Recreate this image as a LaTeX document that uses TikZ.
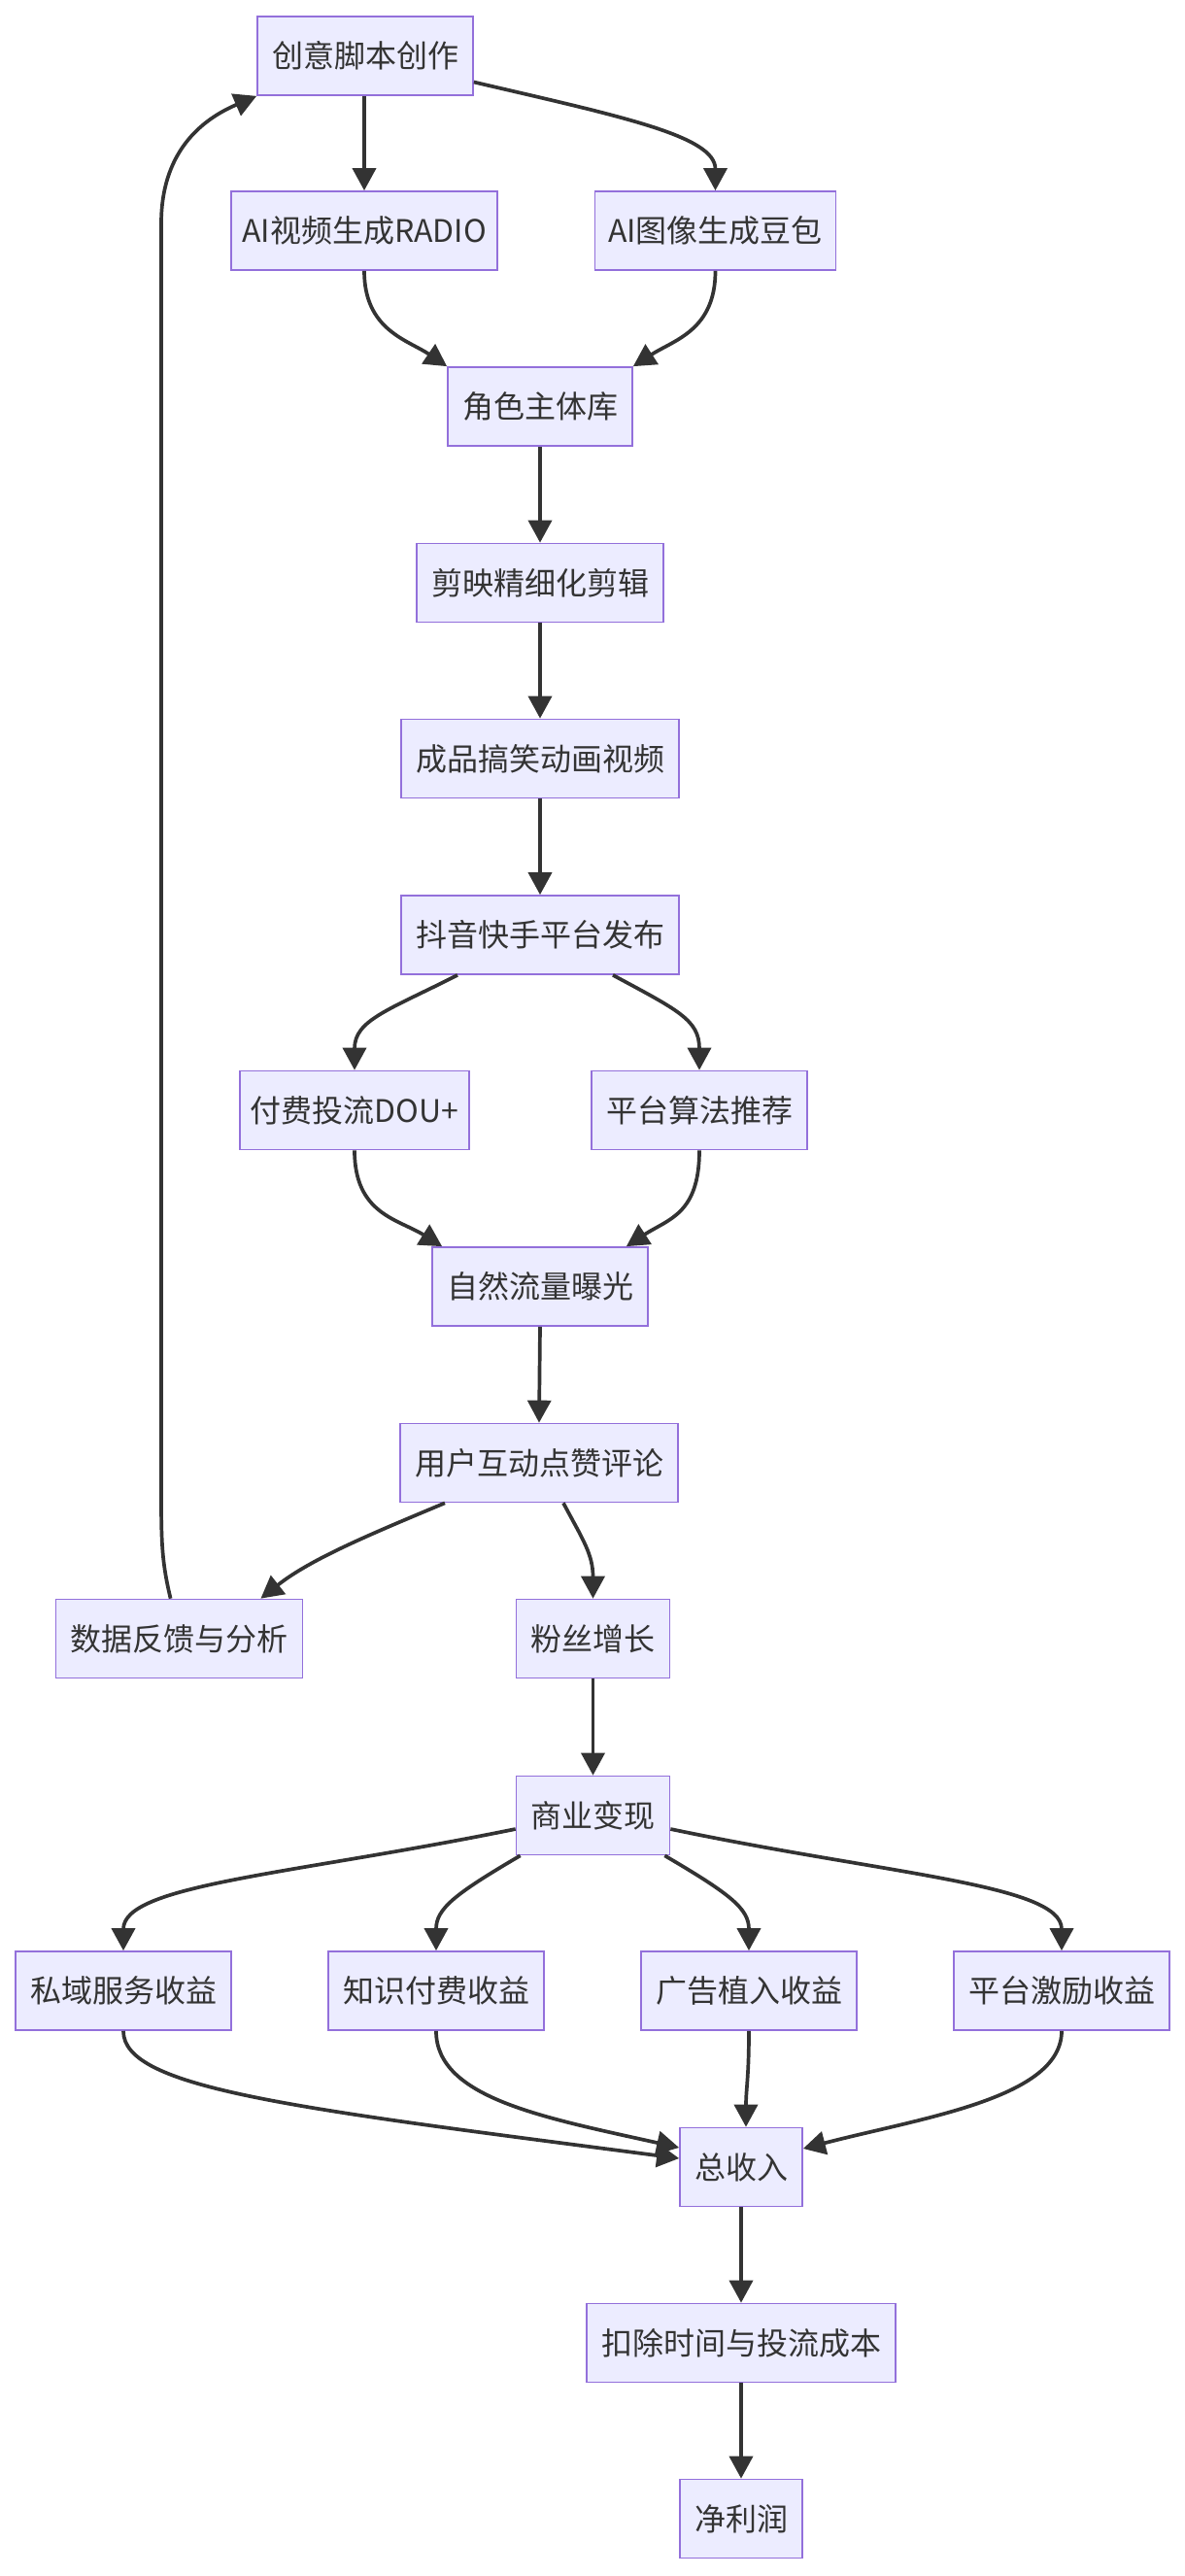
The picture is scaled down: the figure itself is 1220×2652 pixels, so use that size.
\documentclass[tikz,border=0pt]{standalone}
\usepackage{fontspec}
\setmainfont{Noto Sans CJK SC}
\usetikzlibrary{arrows.meta,calc}
\definecolor{nodefill}{HTML}{ECECFF}
\definecolor{nodeedge}{HTML}{9370DB}
\definecolor{linec}{HTML}{333333}
\begin{document}
\begin{tikzpicture}[x=1pt,y=-1pt,
  box/.style={draw=nodeedge,fill=nodefill,line width=1.7pt,minimum height=81pt,inner xsep=15pt,inner ysep=0pt,text=linec,font=\fontsize{32}{38}\selectfont},
  arr/.style={draw=linec,line width=3.7pt,-{Triangle[length=23pt,width=24pt]}}]
\useasboundingbox[fill=white] (0,0) rectangle (1220,2652);
\node[box] (n1) at (376,57.5) {创意脚本创作};
\node[box,inner xsep=11.5pt] (n2) at (375,237.5) {AI视频生成RADIO};
\node[box,inner xsep=13.5pt] (n3) at (736.5,237.5) {AI图像生成豆包};
\node[box] (n4) at (556,418.5) {角色主体库};
\node[box] (n5) at (556,600) {剪映精细化剪辑};
\node[box] (n6) at (556,781) {成品搞笑动画视频};
\node[box] (n7) at (556,962.5) {抖音快手平台发布};
\node[box,inner xsep=11pt] (n8) at (365,1143) {付费投流DOU+};
\node[box] (n9) at (720,1143) {平台算法推荐};
\node[box] (n10) at (556,1324.5) {自然流量曝光};
\node[box] (n11) at (555,1506) {用户互动点赞评论};
\node[box] (n12) at (184.6,1687) {数据反馈与分析};
\node[box] (n13) at (610.5,1687) {粉丝增长};
\node[box] (n14) at (610.5,1869) {商业变现};
\node[box] (n15) at (127,2049.5) {私域服务收益};
\node[box] (n16) at (449,2049.5) {知识付费收益};
\node[box] (n17) at (771,2049.5) {广告植入收益};
\node[box] (n18) at (1093,2049.5) {平台激励收益};
\node[box] (n19) at (763,2231) {总收入};
\node[box] (n20) at (763,2412) {扣除时间与投流成本};
\node[box] (n21) at (763,2593) {净利润};
% edges
\draw[arr] (n1.south -| n2.north) -- (n2.north);
\draw[arr] ($(n1.east)+(0,27)$) .. controls (640,120) and (736.5,140) .. (n3.north);
\draw[arr] (n2.south) .. controls (375,340) and (420,350) .. (n4.north west);
\draw[arr] (n3.south) .. controls (736.5,340) and (694,350) .. (n4.north east);
\draw[arr] (n4.south) -- (n5.north);
\draw[arr] (n5.south) -- (n6.north);
\draw[arr] (n6.south) -- (n7.north);
\draw[arr] ($(n7.south)+(-85,0)$) .. controls (400,1040) and (365,1050) .. (n8.north);
\draw[arr] ($(n7.south)+(75,0)$) .. controls (698,1040) and (720,1050) .. (n9.north);
\draw[arr] (n8.south) .. controls (365,1250) and (410,1255) .. ($(n10.north west)+(11,0)$);
\draw[arr] (n9.south) .. controls (720,1250) and (688,1255) .. ($(n10.north east)+(-23,0)$);
\draw[arr] (n10.south) -- (n11.north);
\draw[arr] ($(n11.south)+(-97,0)$) .. controls (380,1580) and (320,1605) .. ($(n12.north east)+(-44,0)$);
\draw[arr] ($(n11.south)+(25,0)$) .. controls (600,1585) and (610.5,1600) .. (n13.north);
\draw[arr] ($(n12.north)+(-9,0)$) .. controls (167,1610) and (166,1590) .. (166,1540) -- (166,230) .. controls (166,150) and (215,120) .. (n1.south west);
\draw[arr] (n13.south) -- (n14.north);
\draw[arr] ($(n14.west)+(0,14)$) .. controls (300,1930) and (127,1940) .. (n15.north);
\draw[arr] ($(n14.south west)+(5,0)$) .. controls (468,1950) and (449,1965) .. (n16.north);
\draw[arr] ($(n14.south east)+(-6,0)$) .. controls (752,1950) and (771,1965) .. (n17.north);
\draw[arr] ($(n14.east)+(0,14)$) .. controls (915,1930) and (1093,1940) .. (n18.north);
\draw[arr] (n15.south) .. controls (127,2150) and (300,2170) .. ($(n19.west)+(0,-9)$);
\draw[arr] (n16.south) .. controls (449,2160) and (560,2180) .. ($(n19.west)+(0,-20)$);
\draw[arr] (n17.south) .. controls (771,2140) and (768,2150) .. ($(n19.north)+(5,0)$);
\draw[arr] (n18.south) .. controls (1093,2160) and (950,2180) .. ($(n19.east)+(0,-19)$);
\draw[arr] (n19.south) -- (n20.north);
\draw[arr] (n20.south) -- (n21.north);
\end{tikzpicture}
\end{document}
